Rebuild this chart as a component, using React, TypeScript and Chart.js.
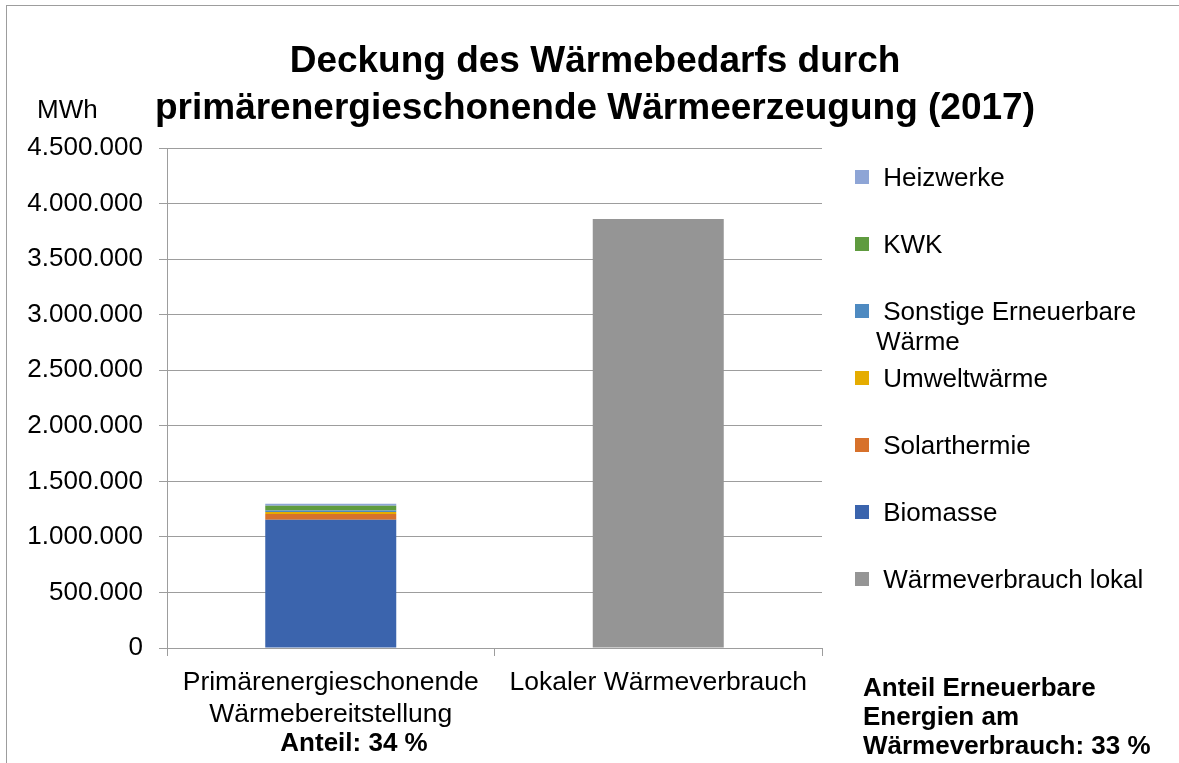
import React, { useEffect, useRef } from 'react';
import { Chart, registerables } from 'chart.js';

Chart.register(...registerables);

const FONT = "'Liberation Sans', Arial, Helvetica, sans-serif";

// ---- data ----
const categories: (string | string[])[] = [
  ['Primärenergieschonende', 'Wärmebereitstellung'],
  'Lokaler Wärmeverbrauch',
];
const seriesNames = [
  'Biomasse',
  'Solarthermie',
  'Umweltwärme',
  'Sonstige Erneuerbare Wärme',
  'KWK',
  'Heizwerke',
  'Wärmeverbrauch lokal',
];
const biomasse = [1155000, null];
const solarthermie = [51000, null];
const umweltwaerme = [18000, null];
const sonstigeEE = [14000, null];
const kwk = [42000, null];
const heizwerke = [18000, null];
const waermeverbrauchLokal = [null, 3860000];
const seriesValues = [biomasse, solarthermie, umweltwaerme, sonstigeEE, kwk, heizwerke, waermeverbrauchLokal];
const seriesColors = ['#3B64AD', '#D7712B', '#E5AC00', '#4E8AC1', '#5F9B3F', '#8EA5D6', '#959595'];

const yMin = 0;
const yMax = 4500000;
const yStep = 500000;
const yUnit = 'MWh';
const titleLines = ['Deckung des Wärmebedarfs durch', 'primärenergieschonende Wärmeerzeugung (2017)'];
const shareNote = 'Anteil: 34 %';
const eeNoteLines = ['Anteil Erneuerbare', 'Energien am', 'Wärmeverbrauch: 33 %'];

const formatDe = (v: number) => String(Math.round(v)).replace(/\B(?=(\d{3})+(?!\d))/g, '.');

export default function App() {
  const canvasRef = useRef<HTMLCanvasElement | null>(null);

  useEffect(() => {
    if (!canvasRef.current) return;
    const chart = new Chart(canvasRef.current, {
      type: 'bar',
      data: {
        labels: categories,
        datasets: seriesNames.map((name, i) => ({
          label: name,
          data: seriesValues[i],
          backgroundColor: seriesColors[i],
          borderWidth: 0,
          categoryPercentage: 1,
          barPercentage: 0.4,
        })),
      },
      options: {
        animation: false,
        responsive: false,
        devicePixelRatio: 1,
        layout: { padding: { left: 0, top: 148, right: 357, bottom: 0 } },
        plugins: {
          legend: { display: false },
          title: { display: false },
          tooltip: { enabled: false },
        },
        scales: {
          x: {
            stacked: true,
            offset: true,
            grid: {
              offset: true,
              drawOnChartArea: false,
              drawTicks: true,
              tickLength: 8,
              color: '#9d9d9d',
              lineWidth: 1,
            },
            border: { display: true, color: '#9d9d9d', width: 1 },
            ticks: {
              color: '#000',
              padding: 11,
              maxRotation: 0,
              autoSkip: false,
              font: { family: FONT, size: 26.5, lineHeight: 1.2 },
            },
            afterFit: (scale: any) => {
              scale.height = 115;
            },
          },
          y: {
            stacked: true,
            min: yMin,
            max: yMax,
            grid: {
              color: '#9d9d9d',
              lineWidth: 1,
              drawTicks: true,
              tickLength: 8,
            },
            border: { display: true, color: '#9d9d9d', width: 1 },
            ticks: {
              stepSize: yStep,
              color: '#000',
              padding: 16,
              font: { family: FONT, size: 26 },
              callback: (v: any) => formatDe(Number(v)),
            },
            afterFit: (scale: any) => {
              scale.width = 167;
            },
          },
        },
      },
    });
    return () => chart.destroy();
  }, []);

  // legend: stacked series from top to bottom, then the consumption series
  const stackedCount = seriesNames.length - 1;
  const legendOrder = seriesNames
    .slice(0, stackedCount)
    .map((n, i) => ({ name: n, color: seriesColors[i] }))
    .reverse()
    .concat([{ name: seriesNames[stackedCount], color: seriesColors[stackedCount] }]);

  return (
    <div
      style={{
        position: 'fixed',
        left: 0,
        top: 0,
        width: 1179,
        height: 763,
        background: '#fff',
        overflow: 'hidden',
        fontFamily: FONT,
        color: '#000',
      }}
    >
      <div
        style={{
          position: 'absolute',
          left: 6,
          top: 5,
          width: 1200,
          height: 800,
          borderLeft: '1px solid #9d9d9d',
          borderTop: '1px solid #9d9d9d',
        }}
      />
      <canvas ref={canvasRef} width={1179} height={763} style={{ position: 'absolute', left: 0, top: 0 }} />
      <div
        style={{
          position: 'absolute',
          left: 10,
          width: 1170,
          top: 36,
          textAlign: 'center',
          fontWeight: 'bold',
          fontSize: 37,
          lineHeight: '47px',
        }}
      >
        {titleLines.map((t, i) => (
          <div key={i}>{t}</div>
        ))}
      </div>
      <div style={{ position: 'absolute', left: 37, top: 94, fontSize: 26, lineHeight: '30px' }}>{yUnit}</div>
      {legendOrder.map((it, i) => (
        <div key={i} style={{ position: 'absolute', left: 855, top: 177 + i * 67 - 15, width: 320 }}>
          <div
            style={{
              position: 'absolute',
              left: 0,
              top: 8,
              width: 14,
              height: 14,
              background: it.color,
            }}
          />
          <div
            style={{
              position: 'absolute',
              left: 21,
              top: 0,
              width: 285,
              fontSize: 26,
              lineHeight: '30px',
              whiteSpace: 'pre-wrap',
            }}
          >
            {' ' + it.name}
          </div>
        </div>
      ))}
      <div
        style={{
          position: 'absolute',
          left: 254,
          width: 200,
          top: 727,
          textAlign: 'center',
          fontWeight: 'bold',
          fontSize: 26,
          lineHeight: '30px',
          whiteSpace: 'nowrap',
        }}
      >
        {shareNote}
      </div>
      <div
        style={{
          position: 'absolute',
          left: 863,
          top: 673,
          fontWeight: 'bold',
          fontSize: 26,
          lineHeight: '29px',
          whiteSpace: 'nowrap',
        }}
      >
        {eeNoteLines.map((t, i) => (
          <div key={i}>{t}</div>
        ))}
      </div>
    </div>
  );
}
